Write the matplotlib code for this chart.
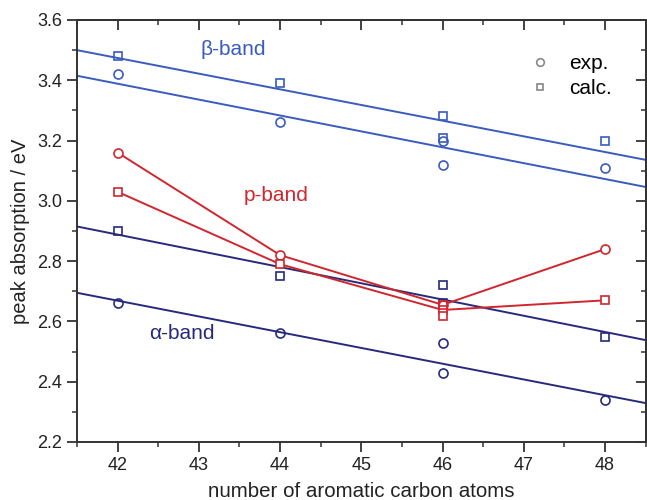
import numpy as np
import matplotlib
matplotlib.use('Agg')
import matplotlib.pyplot as plt
from matplotlib.ticker import MultipleLocator, FormatStrFormatter

plt.rcParams['font.family'] = ['Liberation Sans', 'DejaVu Sans']

#------------------------------------------------------------------------------
# Data
#------------------------------------------------------------------------------

# beta-band
beta_exp_x  = [42, 44, 46, 46, 48]
beta_exp_y  = [3.42, 3.26, 3.20, 3.12, 3.11]
beta_calc_x = [42, 44, 46, 46, 48]
beta_calc_y = [3.48, 3.39, 3.28, 3.21, 3.20]

# p-band (points joined by lines)
p_exp_x  = [42, 44, 46, 48]
p_exp_y  = [3.16, 2.82, 2.655, 2.84]
p_calc_x = [42, 44, 46, 48]
p_calc_y = [3.03, 2.79, 2.638, 2.67]
p_extra_x = [46]
p_extra_y = [2.619]

# alpha-band
alpha_exp_x  = [42, 44, 46, 46, 48]
alpha_exp_y  = [2.66, 2.56, 2.53, 2.43, 2.34]
alpha_calc_x = [42, 44, 46, 46, 48]
alpha_calc_y = [2.90, 2.75, 2.72, 2.66, 2.55]

# linear fits, values at the ends of the x range
fit_x          = [41.5, 48.5]
beta_calc_fit  = [3.500, 3.136]
beta_exp_fit   = [3.415, 3.046]
alpha_calc_fit = [2.915, 2.538]
alpha_exp_fit  = [2.695, 2.329]

c_beta  = '#3a5bbf'
c_p     = '#d0262e'
c_alpha = '#272a7c'

#------------------------------------------------------------------------------
# Plot
#------------------------------------------------------------------------------

fig = plt.figure(figsize=(6.47, 5.0), dpi=100)
ax  = fig.add_axes([0.119, 0.116, 0.879, 0.844])

lw   = 1.4
ms_c = 6.5
ms_s = 5.5
mew  = 1.2

# fit lines
ax.plot(fit_x, beta_calc_fit , color=c_beta , lw=lw)
ax.plot(fit_x, beta_exp_fit  , color=c_beta , lw=lw)
ax.plot(fit_x, alpha_calc_fit, color=c_alpha, lw=lw)
ax.plot(fit_x, alpha_exp_fit , color=c_alpha, lw=lw)

# markers
ax.plot(beta_exp_x  , beta_exp_y  , 'o', mfc='none', mec=c_beta , ms=ms_c, mew=mew)
ax.plot(beta_calc_x , beta_calc_y , 's', mfc='none', mec=c_beta , ms=ms_s, mew=mew)
ax.plot(alpha_exp_x , alpha_exp_y , 'o', mfc='none', mec=c_alpha, ms=ms_c, mew=mew)
ax.plot(alpha_calc_x, alpha_calc_y, 's', mfc='none', mec=c_alpha, ms=ms_s, mew=mew)

# p-band connected points
ax.plot(p_exp_x , p_exp_y , '-o', color=c_p, mfc='white', mec=c_p, ms=ms_c, mew=mew, lw=lw)
ax.plot(p_calc_x, p_calc_y, '-s', color=c_p, mfc='white', mec=c_p, ms=ms_s, mew=mew, lw=lw)
ax.plot(p_extra_x, p_extra_y, 's', mfc='white', mec=c_p, ms=ms_s, mew=mew)
ax.plot([46], [p_exp_y[2]], 's', mfc='none', mec=c_p, ms=ms_s, mew=mew)

# band labels
ax.text(43.02, 3.503, '\u03b2-band', color=c_beta , fontsize=15, ha='left', va='center')
ax.text(43.55, 3.018, 'p-band'     , color=c_p    , fontsize=15, ha='left', va='center')
ax.text(42.39, 2.561, '\u03b1-band', color=c_alpha, fontsize=15, ha='left', va='center')

# legend
ax.plot([], [], 'o', mfc='none', mec='#888888', ms=5.5, mew=1.2, label='exp.')
ax.plot([], [], 's', mfc='none', mec='#888888', ms=5, mew=1.2, label='calc.')
handles, labels = ax.get_legend_handles_labels()
ax.legend(handles, labels, loc='upper left', bbox_to_anchor=(0.796, 0.919),
          frameon=False, fontsize=15, handletextpad=0.9, labelspacing=0.3,
          handlelength=1.0, borderaxespad=0, borderpad=0)

ax.set_xlim(41.5, 48.5)
ax.set_ylim(2.2, 3.6)

ax.xaxis.set_major_locator(MultipleLocator(1))
ax.xaxis.set_minor_locator(MultipleLocator(0.5))
ax.yaxis.set_major_locator(MultipleLocator(0.2))
ax.yaxis.set_minor_locator(MultipleLocator(0.1))
ax.yaxis.set_major_formatter(FormatStrFormatter('%.1f'))

spine_c = '#333333'
for s in ax.spines.values():
    s.set_linewidth(1.4)
    s.set_color(spine_c)

ax.tick_params(which='major', direction='out', length=7, width=1.3, color=spine_c,
               labelsize=13, labelcolor='#222222')
ax.tick_params(which='minor', direction='out', length=3.5, width=1.1, color=spine_c)

# top and right ticks pointing inwards
top = ax.secondary_xaxis('top')
top.xaxis.set_major_locator(MultipleLocator(1))
top.xaxis.set_minor_locator(MultipleLocator(0.5))
top.tick_params(which='major', direction='in', length=7, width=1.3, color=spine_c, labeltop=False)
top.tick_params(which='minor', direction='in', length=3.5, width=1.1, color=spine_c)
top.spines['top'].set_linewidth(1.4)
top.spines['top'].set_color(spine_c)

right = ax.secondary_yaxis('right')
right.yaxis.set_major_locator(MultipleLocator(0.2))
right.yaxis.set_minor_locator(MultipleLocator(0.1))
right.tick_params(which='major', direction='in', length=7, width=1.3, color=spine_c, labelright=False)
right.tick_params(which='minor', direction='in', length=3.5, width=1.1, color=spine_c)
right.spines['right'].set_linewidth(1.4)
right.spines['right'].set_color(spine_c)

ax.set_xlabel('number of aromatic carbon atoms', fontsize=14.8, color='#222222', labelpad=6)
ax.set_ylabel('peak absorption / eV', fontsize=14.5, color='#222222', labelpad=5)

plt.savefig('out.png', dpi=100)
